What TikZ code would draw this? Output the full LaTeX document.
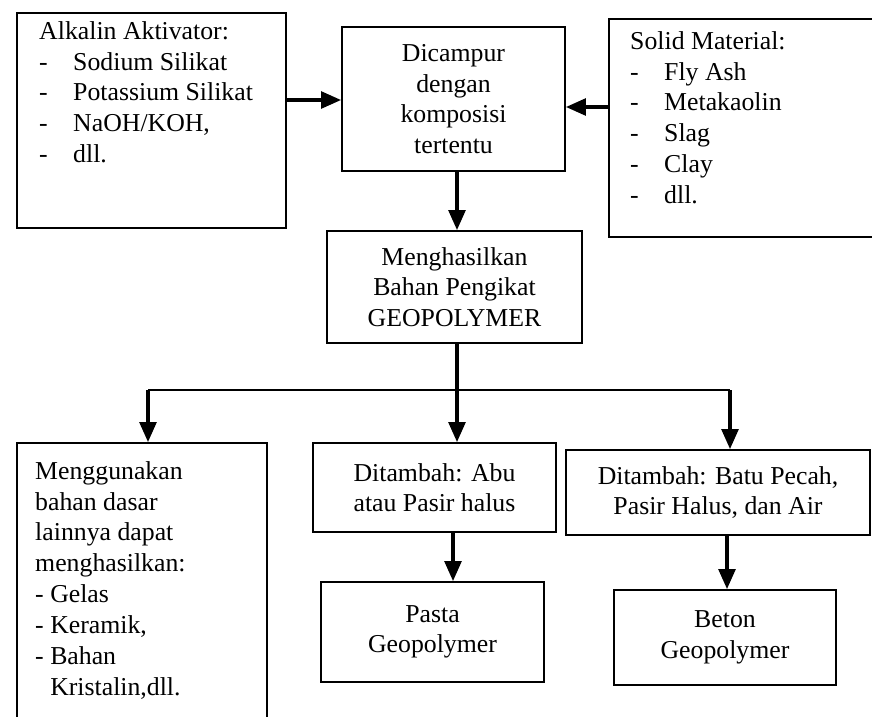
\documentclass[tikz,border=0pt]{standalone}
\usepackage{fontspec}
\setmainfont{Liberation Serif}
\usetikzlibrary{positioning,arrows.meta}

\newcommand{\lstitem}[1]{\makebox[1.02cm][l]{-}#1}

\begin{document}
\begin{tikzpicture}[x=0.03cm, y=-0.03cm]

        % Define box and arrow styles
        \tikzstyle{box} = [rectangle, draw, line width=1.5pt, inner sep=0pt, align=center, font=\fontsize{22}{26}\selectfont]
        \tikzstyle{txt} = [anchor=north west, inner sep=0pt, align=left, font=\fontsize{22}{26.4}\selectfont]
        \tikzstyle{arrow} = [line width=3pt, -{Triangle[length=0.6cm, width=0.5cm]}]

        \useasboundingbox (0,0) rectangle (872,716);
        \clip (0,0) rectangle (872,716);

        % Top row
        \node[box, minimum width=8.07cm, minimum height=6.45cm] (alkali) at (151.5,120.5) {};
        \node[txt] (alkalitxt) at (39,21) {Alkalin Aktivator:\\ \lstitem{Sodium Silikat}\\ \lstitem{Potassium Silikat}\\ \lstitem{NaOH/KOH,}\\ \lstitem{dll.}};
        \node[box, minimum width=6.69cm, minimum height=4.32cm] (mix) at (453.5,99) {Dicampur\\ dengan\\ komposisi\\ tertentu};
        \node[box, minimum width=8.73cm, minimum height=6.54cm] (solid) at (754.5,128) {};
        \node[txt] (solidtxt) at (630,31) {Solid Material:\\ \lstitem{Fly Ash}\\ \lstitem{Metakaolin}\\ \lstitem{Slag}\\ \lstitem{Clay}\\ \lstitem{dll.}};

        % Binder
        \node[box, minimum width=7.65cm, minimum height=3.36cm] (gen) at (454.5,287) {Menghasilkan\\ Bahan Pengikat\\ GEOPOLYMER};

        % Bottom rows
        \node[box, minimum width=7.5cm, minimum height=9.51cm] (use) at (142,601.5) {};
        \node[txt] (usetxt) at (35,461) {Menggunakan\\ bahan dasar\\ lainnya dapat\\ menghasilkan:\\ - Gelas\\ - Keramik,\\ - Bahan\\ \phantom{- }Kristalin,dll.};
        \node[box, minimum width=7.29cm, minimum height=2.67cm] (abu) at (434.5,487.5) {Ditambah: Abu\\ atau Pasir halus};
        \node[box, minimum width=9.12cm, minimum height=2.55cm] (batu) at (718,492.5) {Ditambah: Batu Pecah,\\ Pasir Halus, dan Air};
        \node[box, minimum width=6.69cm, minimum height=3.0cm] (pasta) at (432.5,632) {Pasta\\ Geopolymer};
        \node[box, minimum width=6.66cm, minimum height=2.85cm] (beton) at (725,637.5) {Beton\\ Geopolymer};

        % Helper coordinates for the connectors
        \coordinate (rowa) at (0,100);
        \coordinate (rowb) at (0,107);
        \coordinate (cola) at (457,0);
        \coordinate (split) at (457,390);
        \coordinate (splitl) at (148,390);
        \coordinate (splitr) at (730,390);
        \coordinate (colb) at (453,0);
        \coordinate (colc) at (727,0);

        % Draw arrows
        \draw[arrow] (alkali.east |- rowa) -- (mix.west |- rowa);
        \draw[arrow] (solid.west |- rowb) -- (mix.east |- rowb);
        \draw[arrow] (mix.south -| cola) -- (gen.north -| cola);
        \draw[line width=3pt] (gen.south -| split) -- (split);
        \draw[line width=2pt] (splitl) -- (splitr);
        \draw[arrow] (splitl) -- (splitl |- use.north);
        \draw[arrow] (split) -- (split |- abu.north);
        \draw[arrow] (splitr) -- (splitr |- batu.north);
        \draw[arrow] (abu.south -| colb) -- (pasta.north -| colb);
        \draw[arrow] (batu.south -| colc) -- (beton.north -| colc);

    \end{tikzpicture}
\end{document}
